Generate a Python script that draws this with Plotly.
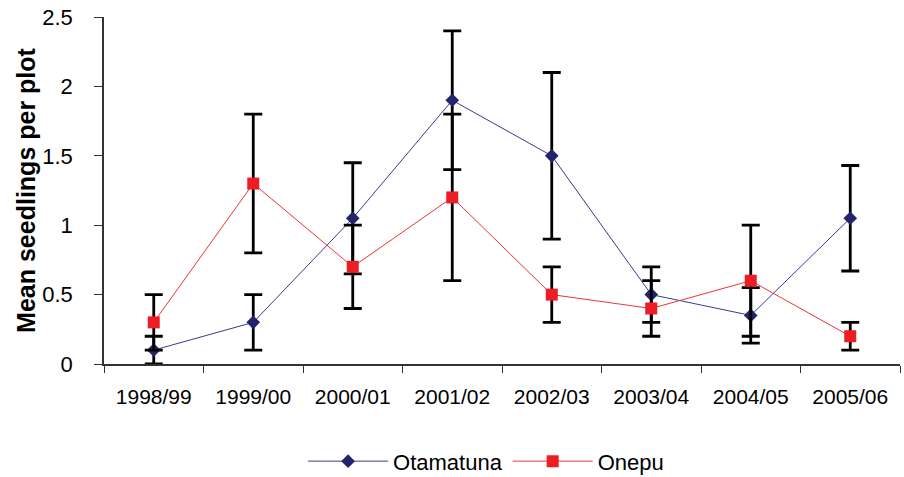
import plotly.graph_objects as go

seasons = ["1998/99", "1999/00", "2000/01", "2001/02", "2002/03", "2003/04", "2004/05", "2005/06"]
otamatuna = [0.1, 0.3, 1.05, 1.9, 1.5, 0.5, 0.35, 1.05]
otamatuna_err = [0.1, 0.2, 0.4, 0.5, 0.6, 0.2, 0.2, 0.38]
onepu = [0.3, 1.3, 0.7, 1.2, 0.5, 0.4, 0.6, 0.2]
onepu_err = [0.2, 0.5, 0.3, 0.6, 0.2, 0.2, 0.4, 0.1]

fig = go.Figure()
fig.add_trace(go.Scatter(
    x=seasons, y=otamatuna, name="Otamatuna", mode="lines+markers",
    line=dict(color="#3a3a8e", width=1),
    marker=dict(symbol="diamond", size=10.5, color="#24246e"),
    error_y=dict(type="data", array=otamatuna_err, color="black", thickness=2.8, width=9),
))
fig.add_trace(go.Scatter(
    x=seasons, y=onepu, name="Onepu", mode="lines+markers",
    line=dict(color="#ee3333", width=1),
    marker=dict(symbol="square", size=12, color="#ee1c24"),
    error_y=dict(type="data", array=onepu_err, color="black", thickness=2.8, width=9),
))

fig.update_layout(
    width=904, height=477,
    margin=dict(l=104, r=4, t=17, b=113, autoexpand=False),
    plot_bgcolor="white", paper_bgcolor="white",
    font=dict(family="Liberation Sans, Arial, sans-serif", color="black"),
    showlegend=True,
    legend=dict(orientation="h", x=0.48, xanchor="center", y=-0.22, yanchor="top",
                font=dict(size=22), itemwidth=80, traceorder="normal"),
)
fig.update_xaxes(
    type="category", range=[-0.5, 7.5], automargin=False,
    showline=True, linecolor="#333", linewidth=1.5,
    ticks="outside", tickson="boundaries", ticklen=7, tickcolor="#333",
    tickfont=dict(size=21), ticklabelstandoff=13, showgrid=False, zeroline=False,
)
fig.update_yaxes(
    range=[0, 2.5], dtick=0.5, automargin=False,
    showline=True, linecolor="#333", linewidth=1.5,
    ticks="outside", ticklen=8, tickcolor="#333",
    tickfont=dict(size=22), ticklabelstandoff=17, showgrid=False, zeroline=False,
    title=dict(text="<b>Mean seedlings per plot</b>", font=dict(size=25), standoff=0),
)

fig.write_html("out.html", config={"displayModeBar": False},
               post_script="document.body.style.margin='0';document.body.style.overflow='hidden';")
